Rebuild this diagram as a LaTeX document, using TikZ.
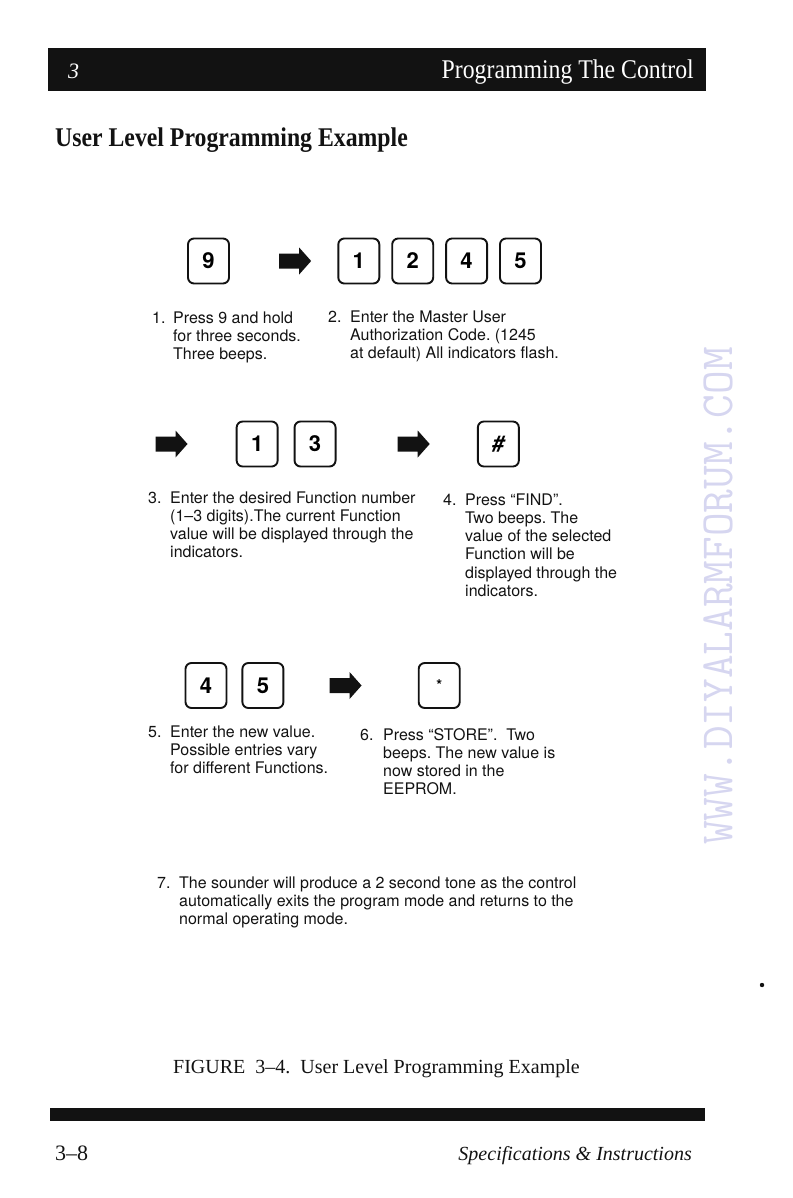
\documentclass[tikz,border=0pt]{standalone}
\usepackage{fontspec}
\setmainfont{Liberation Serif}
\newfontfamily\helv{TeX Gyre Heros}
\newfontfamily\condserif[FakeStretch=0.88]{Liberation Serif}
\usetikzlibrary{positioning}
\definecolor{pageInk}{RGB}{18,18,18}
\definecolor{markLavender}{RGB}{214,214,240}
\newcommand{\stepfont}{\helv\fontsize{16}{18.3}\selectfont\frenchspacing}
\tikzset{
  pagetext/.style={inner sep=0pt, text=pageInk},
  keycap/.style={rectangle, draw=pageInk, line width=1.9pt, rounded corners=6pt,
    minimum width=41pt, minimum height=45pt, inner sep=0pt,
    font=\helv\bfseries\fontsize{22}{22}\selectfont},
  pressarrow/.style={rectangle, draw=none, minimum width=32pt, minimum height=27pt, inner sep=0pt,
    path picture={\fill[pageInk] ([yshift=7.5pt]path picture bounding box.west) -- ++(20pt,0)
      -- ([xshift=20pt]path picture bounding box.north west) -- (path picture bounding box.east)
      -- ([xshift=20pt]path picture bounding box.south west) -- ++(0,6pt)
      -- ([yshift=-7.5pt]path picture bounding box.west) -- cycle;}},
  steptext/.style={pagetext, anchor=north west, align=left, font=\stepfont},
}

\begin{document}
\begin{tikzpicture}[x=1pt,y=-1pt]
  \useasboundingbox (0,0) rectangle (792,1198);

  % header band and title
  \fill[pageInk] (48,48) rectangle (706,91);
  \node[pagetext, text=white, anchor=base west, font=\itshape\fontsize{22}{22}\selectfont] (chapno) at (68,79) {3};
  \node[pagetext, text=white, anchor=base east, font=\condserif\fontsize{27}{27}\selectfont] (chaptitle) at (694,79) {Programming The Control};
  \node[pagetext, anchor=base west, font=\condserif\bfseries\fontsize{27}{27}\selectfont] (title) at (55,147) {User Level Programming Example};

  % row 1
  \node[keycap] (k9) at (208.5,261) {9};
  \node[pressarrow, right=49pt of k9] (a1) {};
  \node[keycap, right=26pt of a1] (c1) {1};
  \node[keycap, right=11pt of c1] (c2) {2};
  \node[keycap, right=11pt of c2] (c4) {4};
  \node[keycap, right=11pt of c4] (c5) {5};

  \node[steptext] (s1) at (152,310) {\begin{tabular}{@{}p{21pt}@{}l@{}}
    1. & Press 9 and hold\\
       & for three seconds.\\
       & Three beeps.
  \end{tabular}};
  \node[steptext] (s2) at (328,309) {\begin{tabular}{@{}p{22pt}@{}l@{}}
    2. & Enter the Master User\\
       & Authorization Code. (1245\\
       & at default) All indicators flash.
  \end{tabular}};

  % row 2
  \node[pressarrow] (a2) at (171.5,444) {};
  \node[keycap, right=48pt of a2] (f1) {1};
  \node[keycap, right=15pt of f1] (f3) {3};
  \node[pressarrow, right=61pt of f3] (a3) {};
  \node[keycap, right=47pt of a3] (khash) {\itshape\#};

  \node[steptext] (s3) at (148,490) {\begin{tabular}{@{}p{22pt}@{}l@{}}
    3. & Enter the desired Function number\\
       & (1–3 digits).The current Function\\
       & value will be displayed through the\\
       & indicators.
  \end{tabular}};
  \node[steptext] (s4) at (443,492) {\begin{tabular}{@{}p{22pt}@{}l@{}}
    4. & Press “FIND”.\\
       & Two beeps. The\\
       & value of the selected\\
       & Function will be\\
       & displayed through the\\
       & indicators.
  \end{tabular}};

  % row 3
  \node[keycap] (v4) at (206,685.5) {4};
  \node[keycap, right=14pt of v4] (v5) {5};
  \node[pressarrow, right=45pt of v5] (a4) {};
  \node[keycap, right=56pt of a4] (kstar) {\fontsize{15}{15}\selectfont*};

  \node[steptext] (s5) at (148,724) {\begin{tabular}{@{}p{22pt}@{}l@{}}
    5. & Enter the new value.\\
       & Possible entries vary\\
       & for different Functions.
  \end{tabular}};
  \node[steptext] (s6) at (360,727) {\begin{tabular}{@{}p{23pt}@{}l@{}}
    6. & Press “STORE”.\ \ Two\\
       & beeps. The new value is\\
       & now stored in the\\
       & EEPROM.
  \end{tabular}};

  \node[steptext] (s7) at (157,875) {\begin{tabular}{@{}p{22pt}@{}l@{}}
    7. & The sounder will produce a 2 second tone as the control\\
       & automatically exits the program mode and returns to the\\
       & normal operating mode.
  \end{tabular}};

  \node[pagetext, anchor=base west, font=\fontsize{20}{20}\selectfont] (caption) at (173,1073) {FIGURE\ \ 3--4.\ \ User Level Programming Example};

  % watermark and footer
  \node[pagetext, text=markLavender, rotate=90, font=\ttfamily\fontsize{46}{46}\selectfont] (mark) at (718,596) {WWW.DIYALARMFORUM.COM};
  \fill[pageInk] (762,985) circle (2.2);

  \fill[pageInk] (50,1108) rectangle (705,1121);
  \node[pagetext, anchor=base west, font=\fontsize{22}{22}\selectfont] (pgno) at (55,1160) {3--8};
  \node[pagetext, anchor=base east, font=\itshape\fontsize{20}{20}\selectfont] (docname) at (692,1160) {Specifications \& Instructions};
\end{tikzpicture}
\end{document}
